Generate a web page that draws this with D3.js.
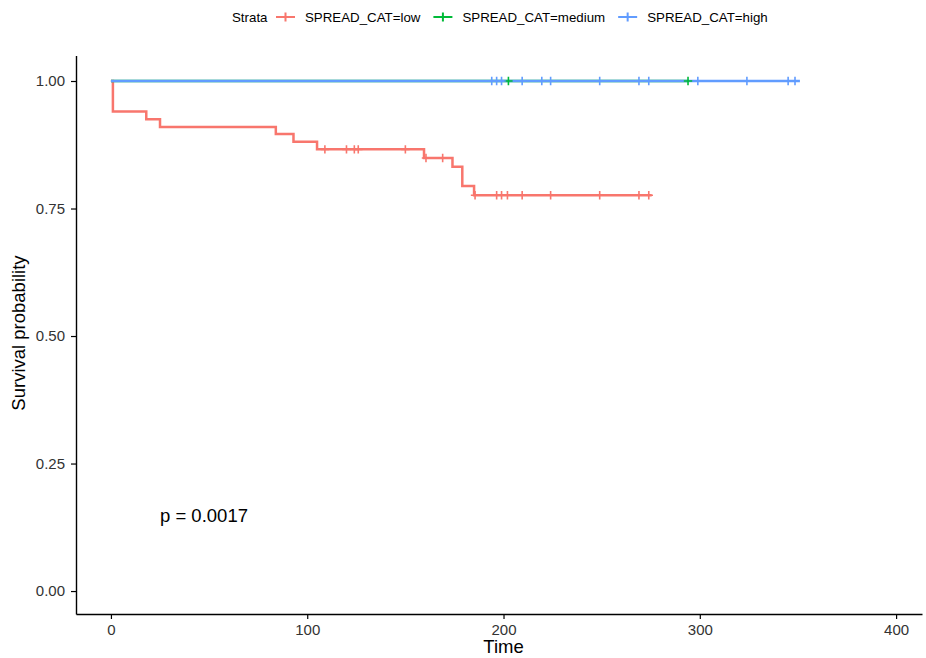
<!DOCTYPE html>
<html>
<head>
<meta charset="utf-8">
<script src="https://cdn.jsdelivr.net/npm/d3@7"></script>
<style>
  body { margin: 0; background: #fff; }
  svg { display: block; font-family: "Liberation Sans", Arial, sans-serif; }
</style>
</head>
<body>
<div id="chart"></div>
<script>
// strata of the km fit
const strata = ["SPREAD_CAT=low", "SPREAD_CAT=medium", "SPREAD_CAT=high"]
const colors = ["#F8766D", "#00BA38", "#619CFF"]

// step curves: time of event, survival after it
const lowTimes = [0, 1, 18, 25, 84, 93, 105, 159.5, 174, 179, 185, 275.5]
const lowSurv  = [1, 0.940, 0.925, 0.910, 0.896, 0.881, 0.866, 0.849, 0.832, 0.794, 0.776, 0.776]
const medTimes = [0, 294]
const medSurv  = [1, 1]
const highTimes = [0, 351]
const highSurv  = [1, 1]

// censored observations
const lowCensor  = [109, 120, 124, 126, 150, 160.5, 169, 185.5, 196.5, 199, 202, 209.5, 224, 249, 269, 274]
const medCensor  = [202.5, 294]
const highCensor = [194, 196.5, 199, 209.5, 219.5, 224, 249, 269, 274, 299, 324, 345, 348.5]

const xTicks = [0, 100, 200, 300, 400]
const yTicks = [0, 0.25, 0.5, 0.75, 1]
const pLabel = "p = 0.0017"

const width = 926, height = 658

const svg = d3.select("#chart").append("svg")
    .attr("width", width)
    .attr("height", height)

const x = d3.scaleLinear().domain([-17.8, 413.2]).range([76, 922])
const y = d3.scaleLinear().domain([-0.045, 1.05]).range([614, 55.5])

// survival value at a time t (right-continuous step)
function survAt(times, surv, t) {
    let s = surv[0]
    for (let i = 0; i < times.length; i++) {
        if (times[i] <= t) s = surv[i]
    }
    return s
}

const series = [
    {name: strata[0], times: lowTimes, surv: lowSurv, censor: lowCensor, color: colors[0]},
    {name: strata[1], times: medTimes, surv: medSurv, censor: medCensor, color: colors[1]},
    {name: strata[2], times: highTimes, surv: highSurv, censor: highCensor, color: colors[2]}
]

const line = d3.line()
    .x(d => x(d[0]))
    .y(d => y(d[1]))
    .curve(d3.curveStepAfter)

// lines first, then all censor marks on top (same as ggplot layers)
svg.append("g")
    .attr("fill", "none")
  .selectAll("path")
  .data(series)
  .join("path")
    .attr("d", d => line(d.times.map((t, i) => [t, d.surv[i]])))
    .attr("stroke", d => d.color)
    .attr("stroke-width", 2.5)

const cs = 4.2
series.forEach(s => {
    const g = svg.append("g")
        .attr("stroke", s.color)
        .attr("stroke-width", 1.6)
    g.selectAll("path")
      .data(s.censor)
      .join("path")
        .attr("d", t => {
            const cx = x(t), cy = y(survAt(s.times, s.surv, t))
            return `M${cx - cs},${cy}H${cx + cs}M${cx},${cy - cs}V${cy + cs}`
        })
})

// axes
const xAxis = svg.append("g")
    .attr("transform", `translate(0,${614})`)
    .call(d3.axisBottom(x).tickValues(xTicks).tickSize(5).tickSizeOuter(0).tickPadding(5).tickFormat(d3.format("d")))
const yAxis = svg.append("g")
    .attr("transform", `translate(${76},0)`)
    .call(d3.axisLeft(y).tickValues(yTicks).tickSize(5).tickSizeOuter(0).tickPadding(6).tickFormat(d3.format(".2f")))

;[xAxis, yAxis].forEach(a => {
    a.select(".domain").attr("stroke", "#000").attr("stroke-width", 1.4)
    a.selectAll(".tick line").attr("stroke", "#000").attr("stroke-width", 1.2)
    a.selectAll(".tick text")
        .attr("font-family", "Liberation Sans, Arial, sans-serif")
        .attr("font-size", 15)
        .attr("fill", "#333")
})

svg.append("text")
    .attr("x", x(200))
    .attr("y", 653)
    .attr("text-anchor", "middle")
    .attr("font-size", 18.5)
    .attr("fill", "#000")
    .text("Time")

svg.append("text")
    .attr("transform", `translate(25,${y(0.5) - 3}) rotate(-90)`)
    .attr("text-anchor", "middle")
    .attr("font-size", 18.5)
    .attr("fill", "#000")
    .text("Survival probability")

svg.append("text")
    .attr("x", 160)
    .attr("y", 522)
    .attr("font-size", 18.5)
    .attr("fill", "#000")
    .text(pLabel)

// legend on top
const legend = svg.append("g")
    .attr("font-size", 13.3)
    .attr("fill", "#000")
let lx = 232
const ly = 17
legend.append("text")
    .attr("x", lx).attr("y", ly).attr("dy", "0.35em")
    .text("Strata")
lx += 44
series.forEach(s => {
    legend.append("path")
        .attr("d", `M${lx},${ly}H${lx + 19}M${lx + 9.5},${ly - 4.5}V${ly + 4.5}`)
        .attr("stroke", s.color)
        .attr("stroke-width", 2)
    const t = legend.append("text")
        .attr("x", lx + 29).attr("y", ly).attr("dy", "0.35em")
        .text(s.name)
    lx += 29 + t.node().getComputedTextLength() + 13
})
</script>
</body>
</html>
